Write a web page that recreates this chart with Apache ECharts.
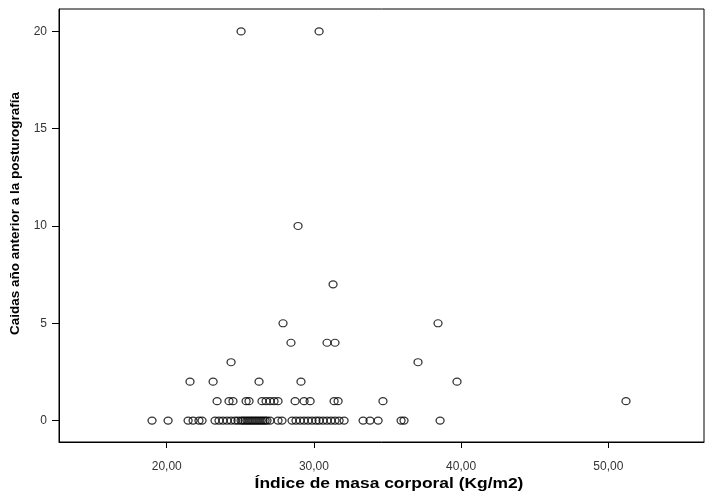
<!DOCTYPE html>
<html>
<head>
<meta charset="utf-8">
<script src="https://cdn.jsdelivr.net/npm/echarts@6/dist/echarts.min.js"></script>
<style>
  html, body { margin: 0; padding: 0; background: #fff; }
  #chart { width: 707px; height: 491px; }
</style>
</head>
<body>
<div id="chart"></div>
<script>
// Body mass index (Kg/m2) of each subject, grouped by number of falls
// in the year before the posturography test.
const falls0 = [19.00, 20.09, 21.45, 21.79, 22.19, 22.40, 23.28, 23.55, 23.82, 24.10,
  24.37, 24.64, 24.84, 25.05, 25.18, 25.32, 25.46, 25.59, 25.73, 25.86,
  26.00, 26.13, 26.27, 26.41, 26.54, 26.68, 26.81, 27.02, 27.56, 27.83,
  28.51, 28.78, 29.06, 29.33, 29.60, 29.87, 30.14, 30.35, 30.62, 30.89,
  31.16, 31.43, 31.71, 32.05, 33.34, 33.81, 34.36, 35.92, 36.12, 38.57];
const falls1 = [23.42, 24.23, 24.50, 25.39, 25.59, 26.47, 26.75, 27.02, 27.29, 27.56,
  28.72, 29.33, 29.74, 31.37, 31.64, 34.69, 51.20];
const falls2 = [21.58, 23.15, 26.27, 29.12, 39.72];
const falls3 = [24.37, 37.07];
const falls4 = [28.44, 30.89, 31.43];
const falls5 = [27.90, 38.43];
const falls7 = [31.30];
const falls10 = [28.92];
const falls20 = [25.05, 30.35];

const groups = [
  [0, falls0], [1, falls1], [2, falls2], [3, falls3], [4, falls4],
  [5, falls5], [7, falls7], [10, falls10], [20, falls20]
];

const xTicks = [20, 30, 40, 50];
const yTicks = [0, 5, 10, 15, 20];
const xTitle = 'Índice de masa corporal (Kg/m2)';
const yTitle = 'Caidas año anterior a la posturografía';

const points = [];
groups.forEach(([count, bmis]) => {
  bmis.forEach(b => points.push([b, count]));
});

const chart = echarts.init(document.getElementById('chart'), null, { renderer: 'canvas' });

const FONT = 'Liberation Sans, Arial, sans-serif';
const labelFont = { fontFamily: FONT, fontSize: 12, color: '#333' };

chart.setOption({
  animation: false,
  backgroundColor: '#fff',
  grid: {
    left: 59, top: 9, right: 3, bottom: 49,
    show: true, borderColor: '#000', borderWidth: 1, backgroundColor: 'transparent'
  },
  // x-axis title is drawn slightly widened, like the rest of the SPSS output
  graphic: [{
    type: 'text',
    x: 389,
    y: 484,
    scaleX: 1.16,
    silent: true,
    style: {
      text: xTitle,
      fontFamily: FONT,
      fontSize: 15,
      fontWeight: 'bold',
      fill: '#000',
      textAlign: 'center',
      textVerticalAlign: 'middle'
    }
  }],
  xAxis: {
    type: 'value',
    min: 12.68,
    max: 56.5,
    splitLine: { show: false },
    axisLine: { show: true, onZero: false, lineStyle: { color: '#000', width: 1 } },
    axisTick: { show: true, length: 6, customValues: xTicks, lineStyle: { color: '#000' } },
    axisLabel: {
      ...labelFont,
      margin: 19,
      customValues: xTicks,
      formatter: v => v.toFixed(2).replace('.', ',')
    }
  },
  yAxis: {
    type: 'value',
    min: -1.1,
    max: 21.15,
    name: yTitle,
    nameLocation: 'middle',
    nameGap: 30,
    nameTextStyle: {
      fontFamily: FONT,
      fontSize: 13.5, fontWeight: 'bold', color: '#000',
      padding: [0, 0, 0, 24]
    },
    splitLine: { show: false },
    axisLine: { show: true, onZero: false, lineStyle: { color: '#000', width: 1 } },
    axisTick: { show: true, length: 7, customValues: yTicks, lineStyle: { color: '#000' } },
    axisLabel: {
      ...labelFont,
      margin: 12,
      customValues: yTicks,
      formatter: v => String(v)
    }
  },
  series: [{
    type: 'scatter',
    data: points,
    symbol: 'circle',
    symbolSize: [8, 7],
    itemStyle: { color: 'rgba(0,0,0,0)', borderColor: '#000', borderWidth: 1.2 },
    emphasis: { disabled: true }
  }]
});
</script>
</body>
</html>
